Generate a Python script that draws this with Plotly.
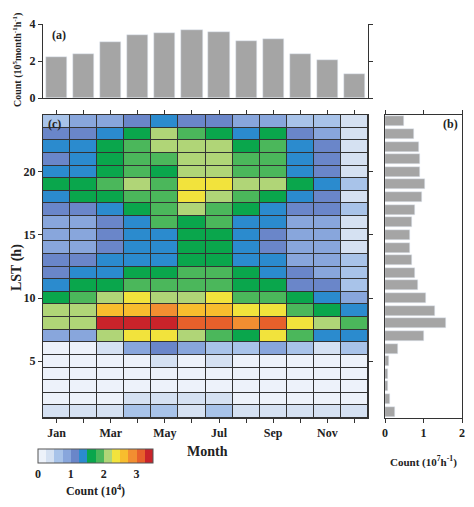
import plotly.graph_objects as go

months = list(range(1, 13))
month_ticktext = ["Jan", "", "Mar", "", "May", "", "Jul", "", "Sep", "", "Nov", ""]
hours = list(range(1, 25))

# (a) monthly totals, 10^5 month^-1 h^-1
monthly_count = [2.24, 2.39, 3.01, 3.41, 3.53, 3.66, 3.57, 3.10, 3.17, 2.37, 2.04, 1.29]

# (b) hourly totals, 10^7 h^-1 (hour 1 .. 24)
hourly_count = [0.26, 0.13, 0.08, 0.07, 0.11, 0.34, 1.01, 1.59, 1.31, 1.07,
                0.87, 0.78, 0.71, 0.66, 0.65, 0.69, 0.77, 0.95, 1.04, 0.91,
                0.90, 0.89, 0.76, 0.49]

# (c) counts (10^4), rows = hour 1..24, columns = Jan..Dec
counts = [
    [0.35, 0.35, 0.35, 0.60, 0.60, 0.35, 0.60, 0.35, 0.35, 0.35, 0.35, 0.35],  # 1
    [0.10, 0.10, 0.10, 0.30, 0.30, 0.30, 0.30, 0.10, 0.10, 0.10, 0.10, 0.10],  # 2
    [0.10, 0.10, 0.10, 0.15, 0.15, 0.10, 0.15, 0.10, 0.10, 0.10, 0.10, 0.10],  # 3
    [0.10, 0.10, 0.10, 0.15, 0.15, 0.10, 0.15, 0.10, 0.10, 0.10, 0.10, 0.10],  # 4
    [0.10, 0.10, 0.10, 0.20, 0.30, 0.20, 0.30, 0.15, 0.10, 0.10, 0.10, 0.10],  # 5
    [0.10, 0.10, 0.35, 0.85, 1.10, 0.85, 0.60, 0.60, 0.85, 0.60, 0.35, 0.60],  # 6
    [0.85, 0.85, 2.10, 2.40, 2.40, 2.10, 1.85, 1.60, 2.40, 1.85, 1.40, 1.40],  # 7
    [2.10, 2.10, 3.40, 3.40, 3.30, 3.10, 3.10, 2.85, 3.10, 2.40, 2.10, 1.85],  # 8
    [2.10, 2.10, 2.60, 2.60, 2.85, 2.60, 2.60, 2.40, 2.40, 1.85, 1.60, 1.40],  # 9
    [1.60, 1.85, 2.10, 2.40, 2.10, 2.10, 2.40, 1.85, 1.85, 1.60, 1.40, 0.85],  # 10
    [1.40, 1.60, 1.60, 1.85, 1.85, 1.85, 1.85, 1.60, 1.60, 1.10, 1.10, 0.60],  # 11
    [1.10, 1.40, 1.40, 1.60, 1.60, 1.85, 1.85, 1.60, 1.40, 1.10, 0.85, 0.60],  # 12
    [1.10, 1.10, 1.40, 1.40, 1.40, 1.60, 1.60, 1.40, 1.40, 0.85, 0.85, 0.60],  # 13
    [0.85, 0.85, 1.10, 1.40, 1.40, 1.60, 1.60, 1.40, 1.10, 0.85, 0.85, 0.35],  # 14
    [0.85, 0.85, 1.10, 1.40, 1.40, 1.60, 1.60, 1.40, 1.10, 0.85, 0.85, 0.35],  # 15
    [0.85, 0.85, 1.10, 1.40, 1.85, 1.60, 1.85, 1.40, 1.40, 0.85, 0.85, 0.35],  # 16
    [1.10, 1.10, 1.40, 1.60, 1.85, 2.10, 1.85, 1.60, 1.40, 1.10, 1.10, 0.60],  # 17
    [1.40, 1.60, 1.60, 1.85, 1.85, 2.40, 2.10, 1.85, 1.60, 1.40, 1.10, 0.35],  # 18
    [1.60, 1.60, 1.85, 2.10, 1.85, 2.40, 2.40, 2.10, 2.10, 1.60, 1.40, 0.60],  # 19
    [1.40, 1.40, 1.60, 1.85, 1.60, 2.10, 2.10, 1.85, 1.85, 1.40, 1.10, 0.35],  # 20
    [1.10, 1.40, 1.60, 1.85, 1.85, 2.10, 2.10, 1.85, 1.85, 1.40, 1.10, 0.35],  # 21
    [1.40, 1.40, 1.60, 1.85, 2.10, 2.10, 2.10, 1.60, 1.85, 1.40, 1.10, 0.35],  # 22
    [1.10, 1.10, 1.40, 1.60, 2.10, 1.85, 1.60, 1.40, 1.60, 1.10, 0.85, 0.35],  # 23
    [0.60, 0.85, 0.85, 1.10, 1.40, 1.10, 1.10, 0.85, 0.85, 0.60, 0.60, 0.35],  # 24
]

level_colors = ["#edf2fa", "#d5e1f2", "#a8c3e9", "#88a6dc", "#6a86c9", "#2b8bce",
                "#0aa64c", "#4bb75b", "#b0d577", "#f2e33c", "#f8bd2e", "#f28e31",
                "#e7602b", "#c9232a"]
zmax = 3.5
n = len(level_colors)
colorscale = []
for i, c in enumerate(level_colors):
    colorscale.append([i / n, c])
    colorscale.append([(i + 1) / n, c])

# page body has an 8px default margin; lay the figure out in window pixels
OFF = 8
FW, FH = 474 - OFF, 507 - OFF
FONT = "Liberation Serif"
def px_x(p): return (p - OFF) / FW
def px_y(p): return 1 - (p - OFF) / FH

hx = [px_x(43), px_x(368)]
hy = [px_y(418), px_y(115)]
ty = [px_y(98), px_y(24)]
rx = [px_x(385), px_x(462)]

tickfont = dict(family=FONT, size=12, color="#222", weight="bold")

fig = go.Figure()

fig.add_trace(go.Heatmap(
    x=months, y=hours, z=counts, zmin=0, zmax=zmax, colorscale=colorscale,
    xgap=1, ygap=1, xaxis="x", yaxis="y",
    colorbar=dict(orientation="h", x=px_x(38), xanchor="left", y=px_y(449), yanchor="top",
                  len=115 / FW, lenmode="fraction", thickness=14, thicknessmode="pixels",
                  outlinecolor="#555", outlinewidth=1, xpad=0, ypad=0,
                  tickvals=[0, 1, 2, 3], ticks="", ticklabelposition="outside bottom",
                  tickfont=tickfont,
                  title=dict(text="<b>Count (10<sup>4</sup>)</b>", side="bottom",
                             font=dict(family=FONT, size=12, color="#222"))),
    hoverinfo="skip"))

fig.add_trace(go.Bar(x=months, y=monthly_count, marker_color="#a5a5a5", width=0.78,
                     xaxis="x2", yaxis="y2", showlegend=False))

fig.add_trace(go.Bar(y=hours, x=hourly_count, orientation="h", marker_color="#a5a5a5", width=0.8,
                     xaxis="x3", yaxis="y3", showlegend=False))

axcommon = dict(showline=True, linecolor="#333", linewidth=1, ticks="outside", ticklen=4,
                tickcolor="#333", tickfont=tickfont, showgrid=False, zeroline=False,
                automargin=False)

fig.update_layout(
    width=FW, height=FH, margin=dict(l=0, r=0, t=0, b=0, autoexpand=False),
    paper_bgcolor="white", plot_bgcolor="white", showlegend=False, bargap=0,
    font=dict(family=FONT, color="#222"),
    xaxis=dict(domain=hx, range=[0.5, 12.5], tickvals=months, ticktext=month_ticktext,
               mirror="ticks", **axcommon),
    yaxis=dict(domain=hy, range=[0.5, 24.5], tickvals=[5, 10, 15, 20], mirror="ticks", **axcommon),
    xaxis2=dict(domain=hx, range=[0.5, 12.5], anchor="y2", showticklabels=False,
                **{**axcommon, "ticks": ""}),
    yaxis2=dict(domain=ty, range=[0, 4], anchor="x2", tickvals=[0, 2, 4], mirror="ticks", **axcommon),
    xaxis3=dict(domain=rx, range=[0, 2], anchor="y3", tickvals=[0, 1, 2], mirror="ticks", **axcommon),
    yaxis3=dict(domain=hy, range=[0.5, 24.5], anchor="x3", showticklabels=False, mirror=True,
                **{**axcommon, "ticks": ""}),
)

fig.add_shape(type="rect", xref="x domain", yref="y domain", x0=0, x1=1, y0=0, y1=1,
              fillcolor="#333", line_width=0, layer="below")

ann_font = dict(family=FONT, size=12, color="#222")
bold = lambda s: "<b>" + s + "</b>"
def note(text, x, y, size, angle=0):
    fig.add_annotation(text=bold(text), xref="paper", yref="paper", x=px_x(x), y=px_y(y),
                       xanchor="center", yanchor="middle", textangle=angle, showarrow=False,
                       font=dict(family=FONT, size=size, color="#222"))

fig.add_annotation(text=bold("(a)"), xref="x2 domain", yref="y2 domain", x=0.02, y=0.97,
                   xanchor="left", yanchor="top", showarrow=False, font=ann_font)
fig.add_annotation(text=bold("(c)"), xref="x domain", yref="y domain", x=0.01, y=1.0,
                   xanchor="left", yanchor="top", showarrow=False, font=ann_font)
fig.add_annotation(text=bold("(b)"), xref="x3 domain", yref="y3 domain", x=0.97, y=1.0,
                   xanchor="right", yanchor="top", showarrow=False, font=ann_font)
note("LST (h)", 17, 268, 14, -90)
note("Month", 207, 451, 14)
note("Count (10<sup>5</sup>month<sup>-1</sup>h<sup>-1</sup>)", 17, 60, 10, -90)
note("Count (10<sup>7</sup>h<sup>-1</sup>)", 423, 461, 11)

fig.write_html("out.html")
